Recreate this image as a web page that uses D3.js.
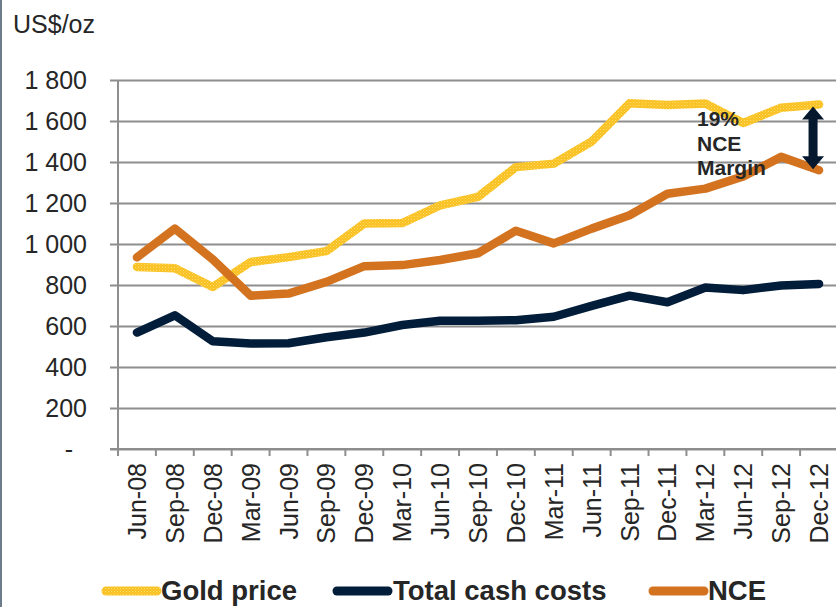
<!DOCTYPE html>
<html>
<head>
<meta charset="utf-8">
<script src="https://cdn.jsdelivr.net/npm/d3@7"></script>
<style>
  html, body { margin: 0; padding: 0; background: #fff; }
  svg { display: block; font-family: "Liberation Sans", Arial, sans-serif; }
</style>
</head>
<body>
<svg id="chart" width="836" height="607"></svg>
<script>
// Quarter labels
const quarters = ["Jun-08","Sep-08","Dec-08","Mar-09","Jun-09","Sep-09","Dec-09","Mar-10","Jun-10",
  "Sep-10","Dec-10","Mar-11","Jun-11","Sep-11","Dec-11","Mar-12","Jun-12","Sep-12","Dec-12"];

// US$/oz series
const goldPrice = [888, 882, 790, 912, 936, 965, 1100, 1102, 1188, 1230, 1375, 1392, 1500, 1686, 1678, 1685, 1590, 1665, 1680];
const totalCashCosts = [568, 652, 526, 515, 516, 545, 568, 605, 626, 626, 628, 645, 698, 748, 716, 788, 775, 798, 805];
const nce = [935, 1075, 925, 748, 758, 815, 892, 897, 922, 955, 1065, 1003, 1075, 1140, 1245, 1270, 1330, 1425, 1360];

const yTickValues = [0, 200, 400, 600, 800, 1000, 1200, 1400, 1600, 1800];
const seriesNames = ["Gold price", "Total cash costs", "NCE"];

const svg = d3.select("#chart");
const plotL = 118, plotR = 838, plotT = 80, plotB = 449;

const x = d3.scaleBand().domain(quarters).range([plotL, plotR]).paddingInner(0).paddingOuter(0);
const y = d3.scaleLinear().domain([0, 1800]).range([plotB, plotT]);
const cx = d => x(d) + x.bandwidth() / 2;

const textColor = "#262626";
const gridColor = "#8e8e8e";
const navy = "#021d3a", orange = "#d4731f";

// dotted gold texture
const defs = svg.append("defs");
const pat = defs.append("pattern").attr("id", "goldDots")
  .attr("patternUnits", "userSpaceOnUse").attr("width", 3).attr("height", 3);
pat.append("rect").attr("width", 3).attr("height", 3).attr("fill", "#f9c222");
pat.append("rect").attr("width", 1).attr("height", 1).attr("fill", "#ffdc6e");
pat.append("rect").attr("x", 1.5).attr("y", 1.5).attr("width", 1).attr("height", 1).attr("fill", "#ffd04a");

// left frame edge
svg.append("rect").attr("x", 0).attr("y", 0).attr("width", 2).attr("height", 607).attr("fill", "#6d7c8b");

// horizontal gridlines with outside tick stubs
const grid = svg.append("g").attr("transform", `translate(110,0)`)
  .call(d3.axisLeft(y).tickValues(yTickValues).tickSize(-(plotR - 110)).tickFormat(""));
grid.select(".domain").remove();
grid.selectAll("line").attr("stroke", gridColor).attr("stroke-width", 2);

// y tick labels
svg.append("g").selectAll("text").data(yTickValues).join("text")
  .attr("x", d => d === 0 ? 73 : 87)
  .attr("y", d => y(d))
  .attr("dy", "0.35em")
  .attr("text-anchor", "end")
  .attr("font-size", 25)
  .attr("fill", textColor)
  .text(d => d === 0 ? "-" : d3.format(",")(d).replace(",", " "));

// y axis line
svg.append("line").attr("x1", plotL).attr("x2", plotL).attr("y1", plotT).attr("y2", plotB + 7)
  .attr("stroke", gridColor).attr("stroke-width", 2);

// x axis with ticks at quarter boundaries
svg.append("line").attr("x1", 110).attr("x2", plotR).attr("y1", plotB).attr("y2", plotB)
  .attr("stroke", gridColor).attr("stroke-width", 2);
svg.append("g").selectAll("line").data(quarters.slice(1)).join("line")
  .attr("x1", d => x(d)).attr("x2", d => x(d))
  .attr("y1", plotB).attr("y2", plotB + 7)
  .attr("stroke", gridColor).attr("stroke-width", 2);

svg.append("g").selectAll("text").data(quarters).join("text")
  .attr("transform", d => `translate(${cx(d)},${plotB + 14}) rotate(-90)`)
  .attr("dy", "0.36em")
  .attr("text-anchor", "end")
  .attr("font-size", 25)
  .attr("fill", textColor)
  .text(d => d);

// unit label
svg.append("text").attr("x", 13).attr("y", 33).attr("font-size", 25).attr("fill", textColor).text("US$/oz");

// series lines
const line = d3.line().x((d, i) => cx(quarters[i])).y(d => y(d));
const series = [
  { name: seriesNames[0], values: goldPrice, stroke: "url(#goldDots)" },
  { name: seriesNames[1], values: totalCashCosts, stroke: navy },
  { name: seriesNames[2], values: nce, stroke: orange }
];
svg.append("g").selectAll("path").data([series[1], series[0], series[2]]).join("path")
  .attr("d", s => line(s.values))
  .attr("fill", "none")
  .attr("stroke", s => s.stroke)
  .attr("stroke-width", 8.5)
  .attr("stroke-linejoin", "round")
  .attr("stroke-linecap", "round");

// margin annotation on the last quarter
const lastQ = quarters[quarters.length - 1];
const gLast = goldPrice[goldPrice.length - 1], nLast = nce[nce.length - 1];
const ax = cx(lastQ) - 6;
const yTop = y(gLast) + 2, yBot = y(nLast) - 1;
const headH = 13, headW = 11, shaft = 4.5;
svg.append("path")
  .attr("d", `M${ax},${yTop} L${ax + headW},${yTop + headH} L${ax + shaft},${yTop + headH}
              L${ax + shaft},${yBot - headH} L${ax + headW},${yBot - headH} L${ax},${yBot}
              L${ax - headW},${yBot - headH} L${ax - shaft},${yBot - headH}
              L${ax - shaft},${yTop + headH} L${ax - headW},${yTop + headH} Z`)
  .attr("fill", "#06182e");

const marginPct = d3.format(".0%")((gLast - nLast) / gLast);
svg.append("text").attr("x", 697).attr("y", 126)
  .attr("font-size", 21).attr("font-weight", "bold").attr("fill", textColor)
  .selectAll("tspan").data([marginPct, "NCE", "Margin"]).join("tspan")
  .attr("x", 697).attr("dy", (d, i) => i === 0 ? 0 : 24.5).text(d => d);

// legend
const legendItems = [
  { name: seriesNames[0], stroke: "url(#goldDots)", x0: 106, tx: 161 },
  { name: seriesNames[1], stroke: navy, x0: 337, tx: 393 },
  { name: seriesNames[2], stroke: orange, x0: 653, tx: 708 }
];
const lg = svg.append("g");
legendItems.forEach(it => {
  lg.append("line").attr("x1", it.x0).attr("x2", it.x0 + 51).attr("y1", 591).attr("y2", 591)
    .attr("stroke", it.stroke).attr("stroke-width", 9).attr("stroke-linecap", "round");
  lg.append("text").attr("x", it.tx).attr("y", 600)
    .attr("font-size", 27.5).attr("font-weight", "bold").attr("fill", textColor).text(it.name);
});
</script>
</body>
</html>
